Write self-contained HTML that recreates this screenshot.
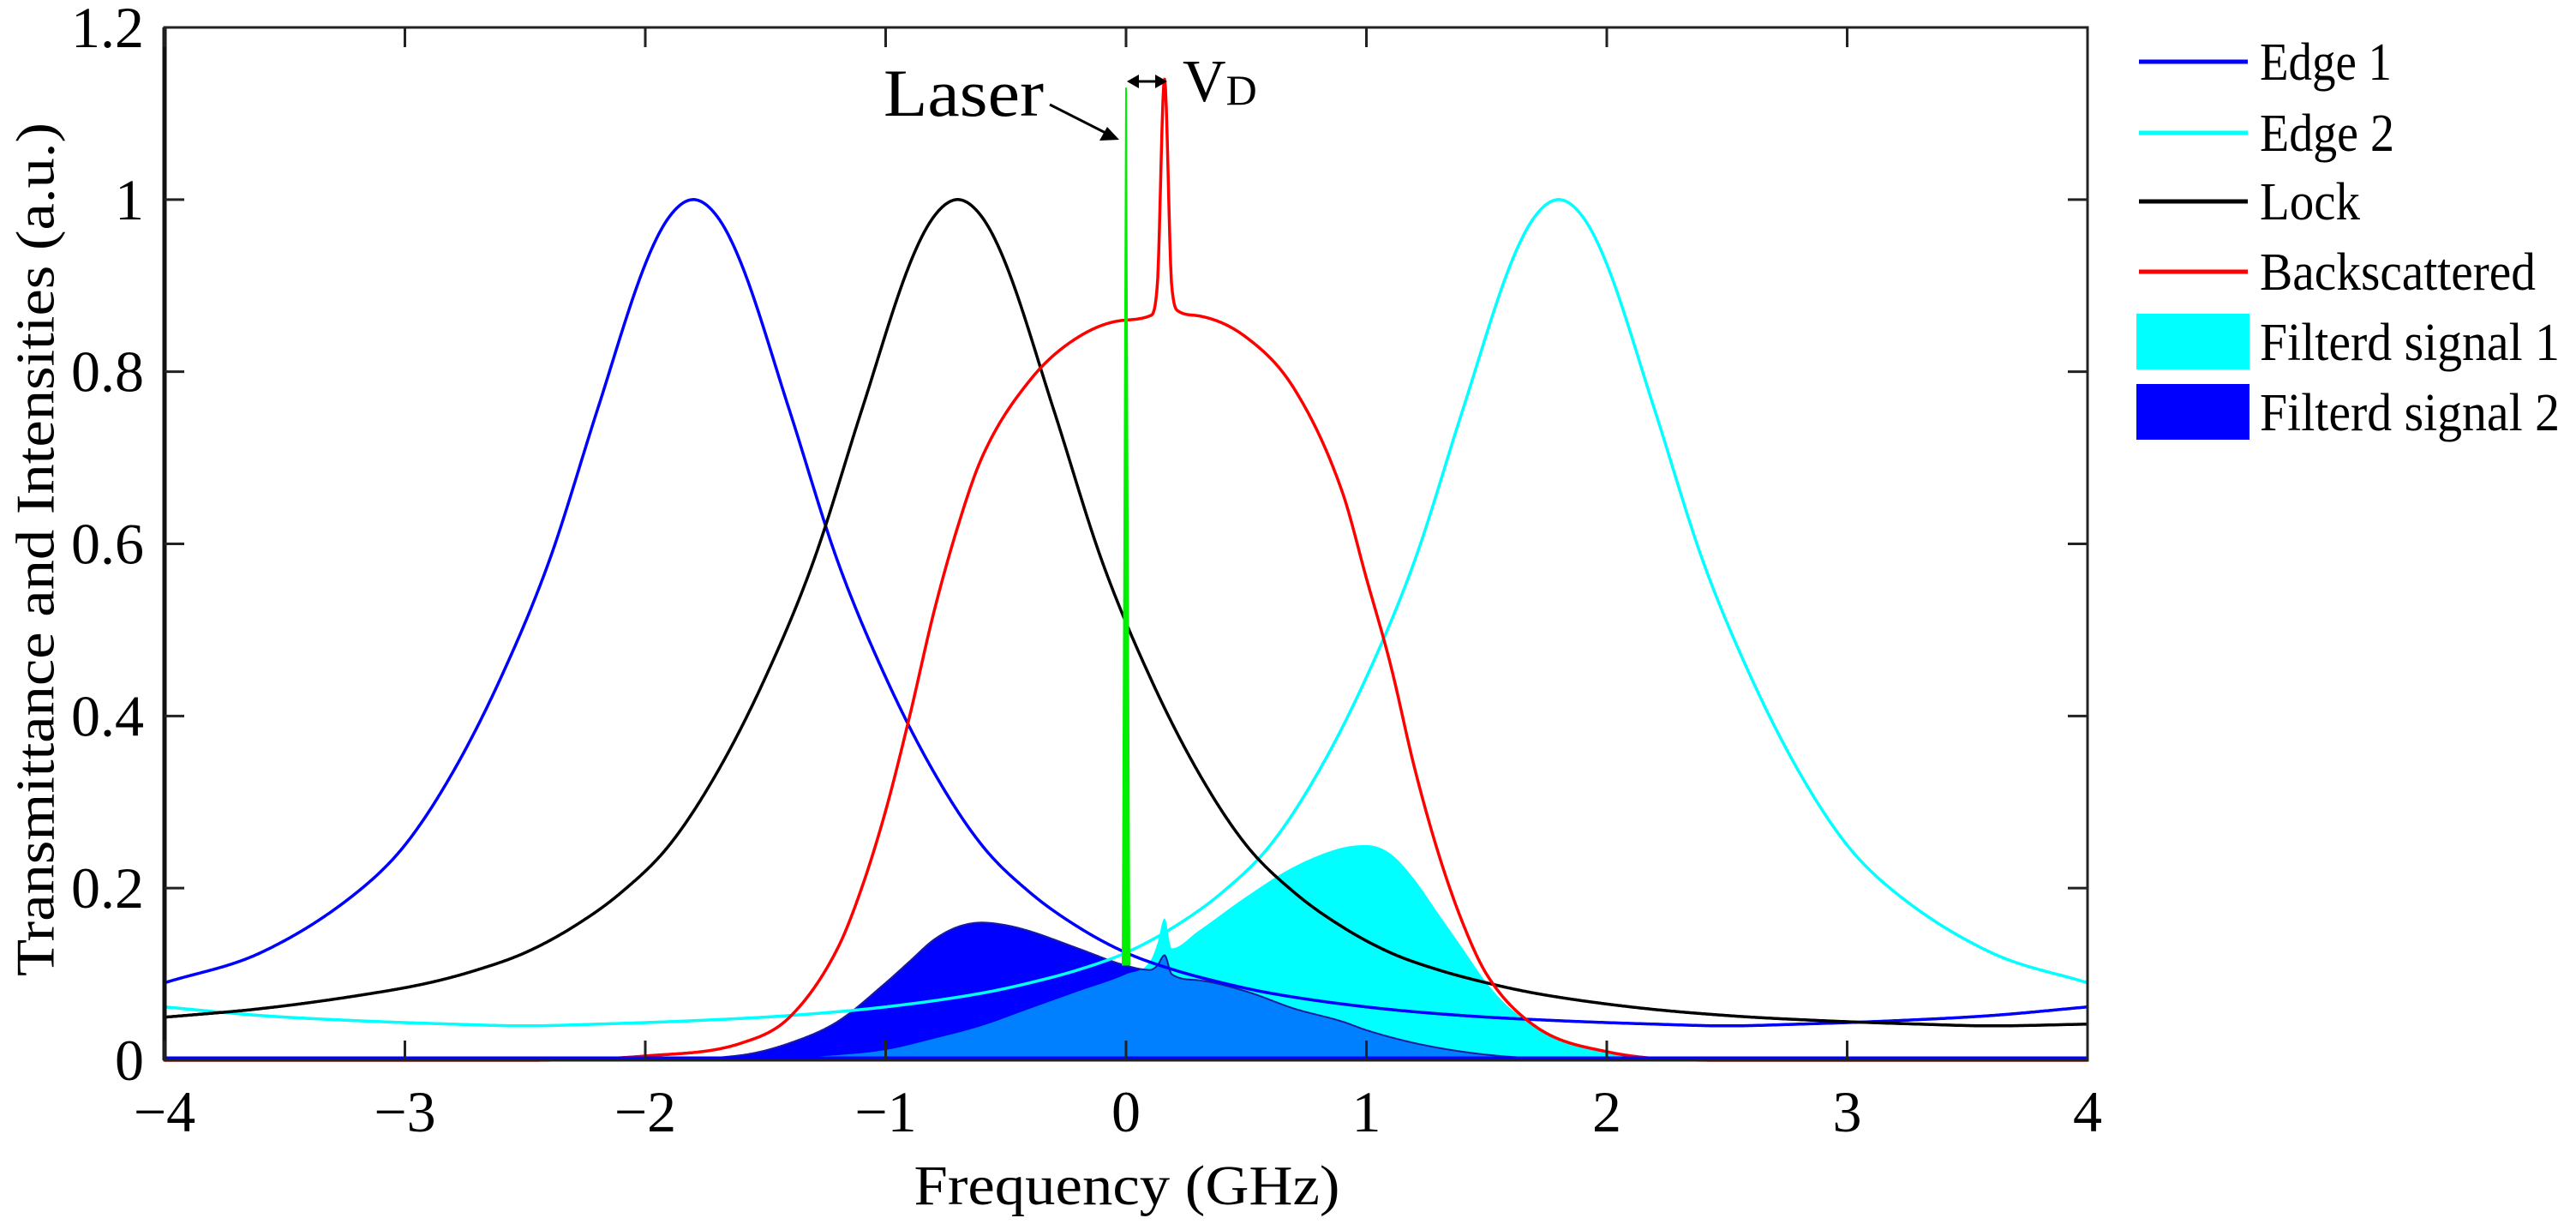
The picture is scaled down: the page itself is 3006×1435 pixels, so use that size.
<!DOCTYPE html>
<html><head><meta charset="utf-8"><style>
html,body{margin:0;padding:0;background:#fff;}
svg{display:block;font-family:"Liberation Serif",serif;}
</style></head><body>
<svg id="chart" width="3006" height="1435" viewBox="0 0 3006 1435" xmlns="http://www.w3.org/2000/svg">
<rect x="0" y="0" width="3006" height="1435" fill="#fff"/>
<g id="fills"></g>
<g id="lines"></g>
<g id="axes"></g>
<text x="41" y="641" font-size="64" text-anchor="middle" dominant-baseline="central" textLength="996" lengthAdjust="spacingAndGlyphs" transform="rotate(-90 41 641)">Transmittance and Intensities (a.u.)</text>
<text x="1315" y="1405" font-size="66" text-anchor="middle" textLength="497" lengthAdjust="spacingAndGlyphs">Frequency (GHz)</text>
<g>
 <g><line x1="2496" y1="72" x2="2623" y2="72" stroke="#0000ff" stroke-width="5"/><text x="2637" y="93" font-size="62" textLength="154" lengthAdjust="spacingAndGlyphs">Edge 1</text></g>
 <g><line x1="2496" y1="155" x2="2623" y2="155" stroke="#00ffff" stroke-width="5"/><text x="2637" y="176" font-size="62" textLength="157" lengthAdjust="spacingAndGlyphs">Edge 2</text></g>
 <g><line x1="2496" y1="235" x2="2623" y2="235" stroke="#000" stroke-width="5"/><text x="2637" y="256" font-size="62" textLength="117" lengthAdjust="spacingAndGlyphs">Lock</text></g>
 <g><line x1="2496" y1="317" x2="2623" y2="317" stroke="#ff0000" stroke-width="5"/><text x="2637" y="338" font-size="62" textLength="322" lengthAdjust="spacingAndGlyphs">Backscattered</text></g>
 <g><rect x="2493" y="366" width="132" height="65" fill="#00ffff"/><text x="2637" y="420" font-size="62" textLength="350" lengthAdjust="spacingAndGlyphs">Filterd signal 1</text></g>
 <g><rect x="2493" y="448" width="132" height="65" fill="#0000ff"/><text x="2637" y="502" font-size="62" textLength="350" lengthAdjust="spacingAndGlyphs">Filterd signal 2</text></g>
</g>
<g>
 <text x="1031" y="135" font-size="78" textLength="187" lengthAdjust="spacingAndGlyphs">Laser</text>
 <line x1="1225" y1="122" x2="1296" y2="158" stroke="#000" stroke-width="3"/>
 <polygon points="1306,163 1283,164 1292,148" fill="#000"/>
 <line x1="1322" y1="95" x2="1355" y2="95" stroke="#000" stroke-width="3"/>
 <polygon points="1315,95 1329,87 1329,103" fill="#000"/>
 <polygon points="1362,95 1348,87 1348,103" fill="#000"/>
 <text x="1380" y="118" font-size="70">V<tspan font-size="50" dy="4">D</tspan></text>
</g>
</svg>
<script>
// ----- data -----
const xTicks = [-4,-3,-2,-1,0,1,2,3,4];
const xTickLabels = ["\u22124","\u22123","\u22122","\u22121","0","1","2","3","4"];
const yTicks = [0,0.2,0.4,0.6,0.8,1,1.2];
const yTickLabels = ["0","0.2","0.4","0.6","0.8","1","1.2"];

const edge1X = [-4,-3.6,-3.2,-3.0,-2.8,-2.6,-2.4,-2.2,-2.0,-1.9,-1.8,-1.7,-1.6,-1.4,-1.2,-1.0,-0.8,-0.6,-0.4,-0.2,0,0.2,0.4,0.6,1.0,1.4,1.8,2.2,2.5,2.8,3.2,3.6,4.0];
const edge1Y = [0.09,0.125,0.195,0.25,0.335,0.445,0.58,0.755,0.925,0.98,1,0.98,0.925,0.755,0.58,0.445,0.335,0.25,0.195,0.155,0.125,0.105,0.09,0.078,0.062,0.052,0.046,0.042,0.04,0.042,0.046,0.052,0.062];
const edge2X = [-4,-3.6,-3.2,-2.8,-2.5,-2.2,-1.8,-1.4,-1.0,-0.6,-0.4,-0.2,0,0.2,0.4,0.6,0.8,1.0,1.2,1.4,1.6,1.7,1.8,1.9,2.0,2.2,2.4,2.6,2.8,3.0,3.2,3.6,4.0];
const edge2Y = [0.062,0.052,0.046,0.042,0.04,0.042,0.046,0.052,0.062,0.078,0.09,0.105,0.125,0.155,0.195,0.25,0.335,0.445,0.58,0.755,0.925,0.98,1,0.98,0.925,0.755,0.58,0.445,0.335,0.25,0.195,0.125,0.09];
const lockX = [-4,-3.6,-3.2,-2.9,-2.7,-2.5,-2.3,-2.1,-1.9,-1.7,-1.5,-1.3,-1.1,-0.9,-0.8,-0.7,-0.6,-0.5,-0.3,-0.1,0.1,0.3,0.5,0.7,0.9,1.1,1.3,1.5,1.7,2.1,2.5,2.9,3.3,3.6,4.0];
const lockY = [0.05,0.06,0.075,0.09,0.105,0.125,0.155,0.195,0.25,0.335,0.445,0.58,0.755,0.925,0.98,1,0.98,0.925,0.755,0.58,0.445,0.335,0.25,0.195,0.155,0.125,0.105,0.09,0.078,0.062,0.052,0.046,0.042,0.04,0.042];
const redX = [-4,-2.5,-2.0,-1.6,-1.4,-1.2,-1.1,-1.0,-0.9,-0.8,-0.7,-0.6,-0.4,-0.2,0,0.1,0.13,0.16,0.19,0.22,0.3,0.5,0.7,0.9,1.0,1.1,1.2,1.3,1.4,1.5,1.7,2.0,2.5,4];
const redY = [0,0,0.005,0.02,0.05,0.13,0.2,0.29,0.4,0.52,0.62,0.7,0.79,0.84,0.86,0.865,0.9,1.14,0.9,0.87,0.865,0.84,0.78,0.66,0.56,0.46,0.34,0.24,0.16,0.1,0.04,0.01,0,0];
const sig1X = [-4,-2,-1.6,-1.2,-1.0,-0.8,-0.6,-0.4,-0.2,0,0.1,0.13,0.16,0.19,0.3,0.5,0.7,0.9,1.0,1.1,1.2,1.3,1.4,1.5,1.6,1.8,2.0,2.4,4];
const sig1Y = [0,0,0.001,0.006,0.012,0.025,0.04,0.06,0.08,0.1,0.115,0.135,0.165,0.13,0.15,0.19,0.225,0.247,0.25,0.24,0.21,0.17,0.13,0.09,0.06,0.025,0.01,0.002,0];
const sig2X = [-4,-2,-1.6,-1.4,-1.2,-1.0,-0.9,-0.8,-0.7,-0.6,-0.5,-0.4,-0.2,0,0.1,0.13,0.16,0.19,0.3,0.5,0.7,0.9,1.0,1.2,1.4,1.6,2,4];
const sig2Y = [0,0.001,0.006,0.02,0.045,0.09,0.115,0.14,0.155,0.16,0.157,0.15,0.13,0.11,0.105,0.11,0.122,0.1,0.093,0.08,0.06,0.045,0.035,0.02,0.01,0.004,0,0];
const laserX = [0];
const laserLow = [0.11];
const laserHigh = [1.13];

// ----- scales -----
const X0=192, X1=2436, Y0=1237, Y1=32;
const xMin=-4, xMax=4, yMin=0, yMax=1.2;
function sx(v){return X0+(v-xMin)/(xMax-xMin)*(X1-X0);}
function sy(v){return Y0-(v-yMin)/(yMax-yMin)*(Y0-Y1);}
const NS="http://www.w3.org/2000/svg";

function interp(xs,ys){
  const n=xs.length, d=[], m=[];
  for(let i=0;i<n-1;i++) d.push((ys[i+1]-ys[i])/(xs[i+1]-xs[i]));
  m[0]=d[0]; m[n-1]=d[n-2];
  for(let i=1;i<n-1;i++){ m[i]=(d[i-1]*d[i]<=0)?0:(d[i-1]+d[i])/2; }
  for(let i=0;i<n-1;i++){
    if(d[i]===0){m[i]=0;m[i+1]=0;continue;}
    const a=m[i]/d[i], b=m[i+1]/d[i], s=a*a+b*b;
    if(s>9){const t=3/Math.sqrt(s); m[i]=t*a*d[i]; m[i+1]=t*b*d[i];}
  }
  return function(x){
    let i=0; while(i<n-2 && x>xs[i+1]) i++;
    const h=xs[i+1]-xs[i], t=(x-xs[i])/h, t2=t*t, t3=t2*t;
    return (2*t3-3*t2+1)*ys[i]+(t3-2*t2+t)*h*m[i]+(-2*t3+3*t2)*ys[i+1]+(t3-t2)*h*m[i+1];
  };
}
function samples(xs,ys){
  const f=interp(xs,ys), pts=[];
  for(let px=X0;px<=X1;px+=1){const v=xMin+(px-X0)/(X1-X0)*(xMax-xMin); pts.push([px,sy(f(v))]);}
  return pts;
}
function pathFrom(pts){return pts.map((p,i)=>(i?'L':'M')+p[0].toFixed(1)+' '+p[1].toFixed(1)).join(' ');}

const fills=document.getElementById('fills'), lines=document.getElementById('lines'), axes=document.getElementById('axes');

const s1=samples(sig1X,sig1Y), s2=samples(sig2X,sig2Y);
const ov=s1.map((p,i)=>[p[0],Math.max(p[1],s2[i][1])]);
function area(pts){return pathFrom(pts)+` L${X1} ${Y0} L${X0} ${Y0} Z`;}
let el=document.createElementNS(NS,'path');
el.setAttribute('d',area(s1)); el.setAttribute('fill','#00ffff');


fills.appendChild(el);
el=document.createElementNS(NS,'path');
el.setAttribute('d',area(s2)); el.setAttribute('fill','#0000ff');


fills.appendChild(el);
el=document.createElementNS(NS,'path');
el.setAttribute('d',area(ov)); el.setAttribute('fill','#0080ff');


fills.appendChild(el);
el=document.createElementNS(NS,'path');
el.setAttribute('d',pathFrom(s2)); el.setAttribute('fill','none'); el.setAttribute('stroke','#1a1aa0'); el.setAttribute('stroke-width','2');


fills.appendChild(el);

const series=[[edge1X,edge1Y,'#0000ff','edge-1-line'],[edge2X,edge2Y,'#00ffff','edge-2-line'],[lockX,lockY,'#000000','lock-line'],[redX,redY,'#ff0000','backscattered-line']];
series.forEach(s=>{
  const p=document.createElementNS(NS,'path');
  p.setAttribute('d',pathFrom(samples(s[0],s[1])));
  p.setAttribute('fill','none'); p.setAttribute('stroke',s[2]); p.setAttribute('stroke-width','3.5');
  p.setAttribute('stroke-linejoin','round');
  
  
  lines.appendChild(p);
});
el=document.createElementNS(NS,'line');
el.setAttribute('x1',X0); el.setAttribute('x2',X1); el.setAttribute('y1',sy(0)-2); el.setAttribute('y2',sy(0)-2);
el.setAttribute('stroke','#0000ff'); el.setAttribute('stroke-width','5');


lines.appendChild(el);
laserX.forEach((v,i)=>{
  const cx=sx(v), yb=sy(laserLow[i]), yt=sy(laserHigh[i]);
  const g=document.createElementNS(NS,'polygon');
  g.setAttribute('points',`${cx-5},${yb} ${cx+5},${yb} ${cx+1},${yt} ${cx-1},${yt}`);
  g.setAttribute('fill','#00ee00');
  
  
  lines.appendChild(g);
});

el=document.createElementNS(NS,'rect');
el.setAttribute('x',X0); el.setAttribute('y',Y1); el.setAttribute('width',X1-X0); el.setAttribute('height',Y0-Y1);
el.setAttribute('fill','none'); el.setAttribute('stroke','#222'); el.setAttribute('stroke-width','3');


axes.appendChild(el);
el=document.createElementNS(NS,'line');
el.setAttribute('x1',X0); el.setAttribute('x2',X0); el.setAttribute('y1',Y1); el.setAttribute('y2',Y0);
el.setAttribute('stroke','#111'); el.setAttribute('stroke-width','5');


axes.appendChild(el);
xTicks.forEach((v,i)=>{
  const x=sx(v);
  const t=document.createElementNS(NS,'path');
  t.setAttribute('d',`M${x} ${Y0} L${x} ${Y0-23} M${x} ${Y1} L${x} ${Y1+23}`);
  t.setAttribute('stroke','#222'); t.setAttribute('stroke-width','3');
  
  
  axes.appendChild(t);
  const l=document.createElementNS(NS,'text');
  l.setAttribute('x',x); l.setAttribute('y',1320); l.setAttribute('font-size','68'); l.setAttribute('text-anchor','middle');
  l.textContent=xTickLabels[i];
  
  
  axes.appendChild(l);
});
yTicks.forEach((v,i)=>{
  const y=sy(v);
  const t=document.createElementNS(NS,'path');
  t.setAttribute('d',`M${X0} ${y} L${X0+23} ${y} M${X1} ${y} L${X1-23} ${y}`);
  t.setAttribute('stroke','#222'); t.setAttribute('stroke-width','3');
  
  
  axes.appendChild(t);
  const l=document.createElementNS(NS,'text');
  l.setAttribute('x',168); l.setAttribute('y',y+23); l.setAttribute('font-size','68'); l.setAttribute('text-anchor','end');
  l.textContent=yTickLabels[i];
  
  
  axes.appendChild(l);
});
</script>
</body></html>
